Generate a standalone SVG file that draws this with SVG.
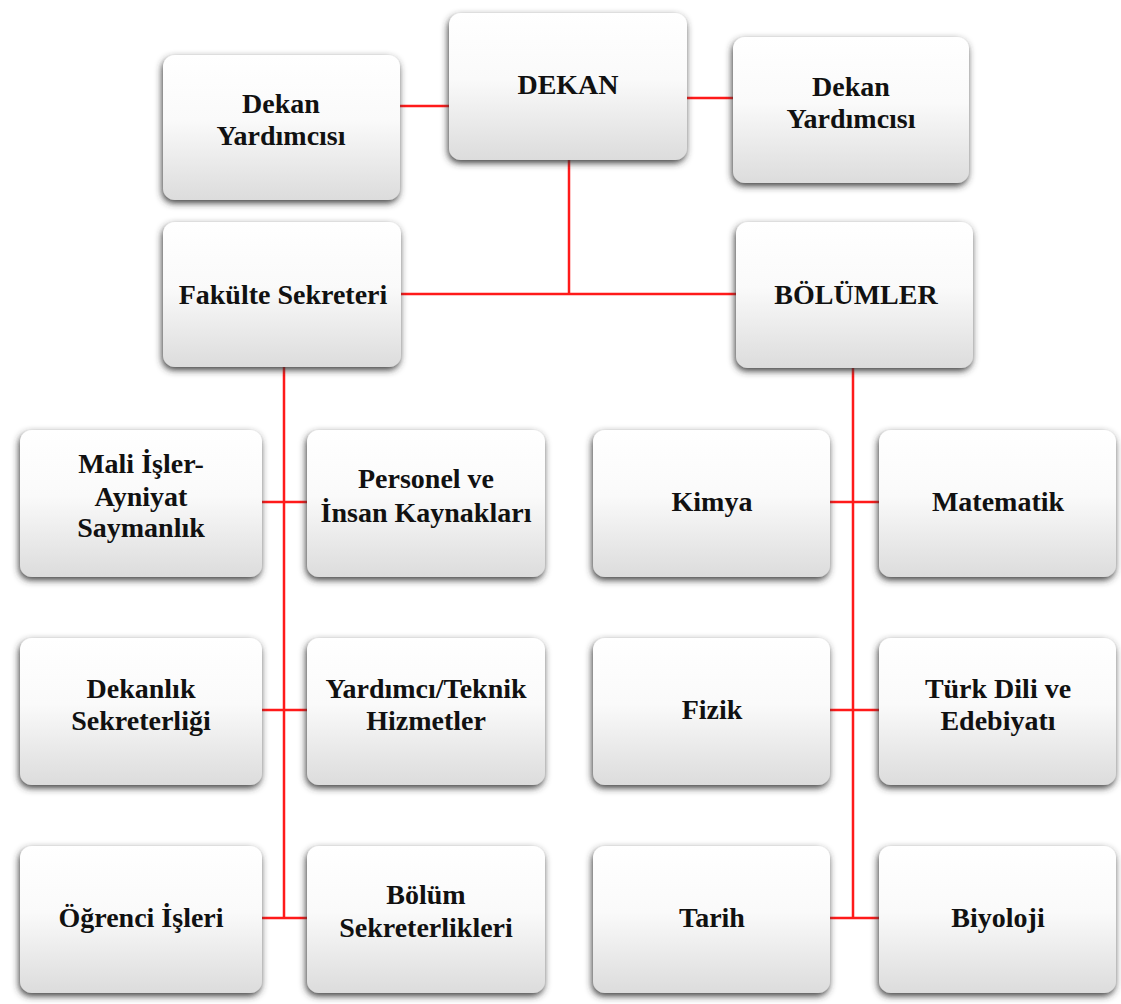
<svg xmlns="http://www.w3.org/2000/svg" width="1121" height="1004" viewBox="0 0 1121 1004">
<defs>
<linearGradient id="g" x1="0" y1="0" x2="0" y2="1">
<stop offset="0" stop-color="#ffffff"/>
<stop offset="0.45" stop-color="#fafafa"/>
<stop offset="1" stop-color="#dcdcdc"/>
</linearGradient>
<filter id="sh" x="-10%" y="-10%" width="120%" height="125%">
<feDropShadow dx="-1" dy="3" stdDeviation="3.5" flood-color="#333333" flood-opacity="0.95"/>
</filter>
</defs>
<style>
.b{fill:url(#g);filter:url(#sh)}
.t{font-family:"Liberation Serif","Times New Roman",serif;font-weight:bold;font-size:28px;fill:#111;text-anchor:middle}
.c{stroke:#ff1a1a;stroke-width:2.5;fill:none}
</style>
<rect width="1121" height="1004" fill="#ffffff"/>
<g id="connectors">
<line class="c" x1="400" y1="106" x2="449" y2="106"/>
<line class="c" x1="687" y1="98" x2="733" y2="98"/>
<line class="c" x1="569" y1="160" x2="569" y2="294"/>
<line class="c" x1="401" y1="294" x2="736" y2="294"/>
<line class="c" x1="284" y1="367" x2="284" y2="918"/>
<line class="c" x1="262" y1="502" x2="307" y2="502"/>
<line class="c" x1="262" y1="710" x2="307" y2="710"/>
<line class="c" x1="262" y1="918" x2="307" y2="918"/>
<line class="c" x1="853" y1="368" x2="853" y2="918"/>
<line class="c" x1="830" y1="502" x2="879" y2="502"/>
<line class="c" x1="830" y1="710" x2="879" y2="710"/>
<line class="c" x1="830" y1="918" x2="879" y2="918"/>
</g>
<g id="dekan-yard-left"><rect class="b" x="163" y="55" width="237" height="145" rx="12"/>
<text class="t" x="281" y="113">Dekan</text><text class="t" x="281" y="145">Yardımcısı</text></g>
<g id="dekan"><rect class="b" x="449" y="13" width="238" height="147" rx="12"/>
<text class="t" x="568" y="94">DEKAN</text></g>
<g id="dekan-yard-right"><rect class="b" x="733" y="37" width="236" height="146" rx="12"/>
<text class="t" x="851" y="96">Dekan</text><text class="t" x="851" y="128">Yardımcısı</text></g>
<g id="fakulte"><rect class="b" x="163" y="222" width="238" height="145" rx="12"/>
<text class="t" x="283" y="304">Fakülte Sekreteri</text></g>
<g id="bolumler"><rect class="b" x="736" y="222" width="237" height="146" rx="12"/>
<text class="t" x="856" y="304">BÖLÜMLER</text></g>
<g id="mali"><rect class="b" x="20" y="430" width="242" height="147" rx="12"/>
<text class="t" x="141" y="473">Mali İşler-</text><text class="t" x="141" y="506">Ayniyat</text><text class="t" x="141" y="537">Saymanlık</text></g>
<g id="personel"><rect class="b" x="307" y="430" width="238" height="147" rx="12"/>
<text class="t" x="426" y="488">Personel ve</text><text class="t" x="426" y="522">İnsan Kaynakları</text></g>
<g id="kimya"><rect class="b" x="593" y="430" width="237" height="147" rx="12"/>
<text class="t" x="712" y="511">Kimya</text></g>
<g id="matematik"><rect class="b" x="879" y="430" width="237" height="147" rx="12"/>
<text class="t" x="998" y="511">Matematik</text></g>
<g id="dekanlik"><rect class="b" x="20" y="638" width="242" height="147" rx="12"/>
<text class="t" x="141" y="698">Dekanlık</text><text class="t" x="141" y="730">Sekreterliği</text></g>
<g id="yardimci"><rect class="b" x="307" y="638" width="238" height="147" rx="12"/>
<text class="t" x="426" y="698">Yardımcı/Teknik</text><text class="t" x="426" y="730">Hizmetler</text></g>
<g id="fizik"><rect class="b" x="593" y="638" width="237" height="147" rx="12"/>
<text class="t" x="712" y="719">Fizik</text></g>
<g id="turk"><rect class="b" x="879" y="638" width="237" height="147" rx="12"/>
<text class="t" x="998" y="698">Türk Dili ve</text><text class="t" x="998" y="730">Edebiyatı</text></g>
<g id="ogrenci"><rect class="b" x="20" y="846" width="242" height="147" rx="12"/>
<text class="t" x="141" y="927">Öğrenci İşleri</text></g>
<g id="bolum-sek"><rect class="b" x="307" y="846" width="238" height="147" rx="12"/>
<text class="t" x="426" y="904">Bölüm</text><text class="t" x="426" y="937">Sekreterlikleri</text></g>
<g id="tarih"><rect class="b" x="593" y="846" width="237" height="147" rx="12"/>
<text class="t" x="712" y="927">Tarih</text></g>
<g id="biyoloji"><rect class="b" x="879" y="846" width="237" height="147" rx="12"/>
<text class="t" x="998" y="927">Biyoloji</text></g>
</svg>
